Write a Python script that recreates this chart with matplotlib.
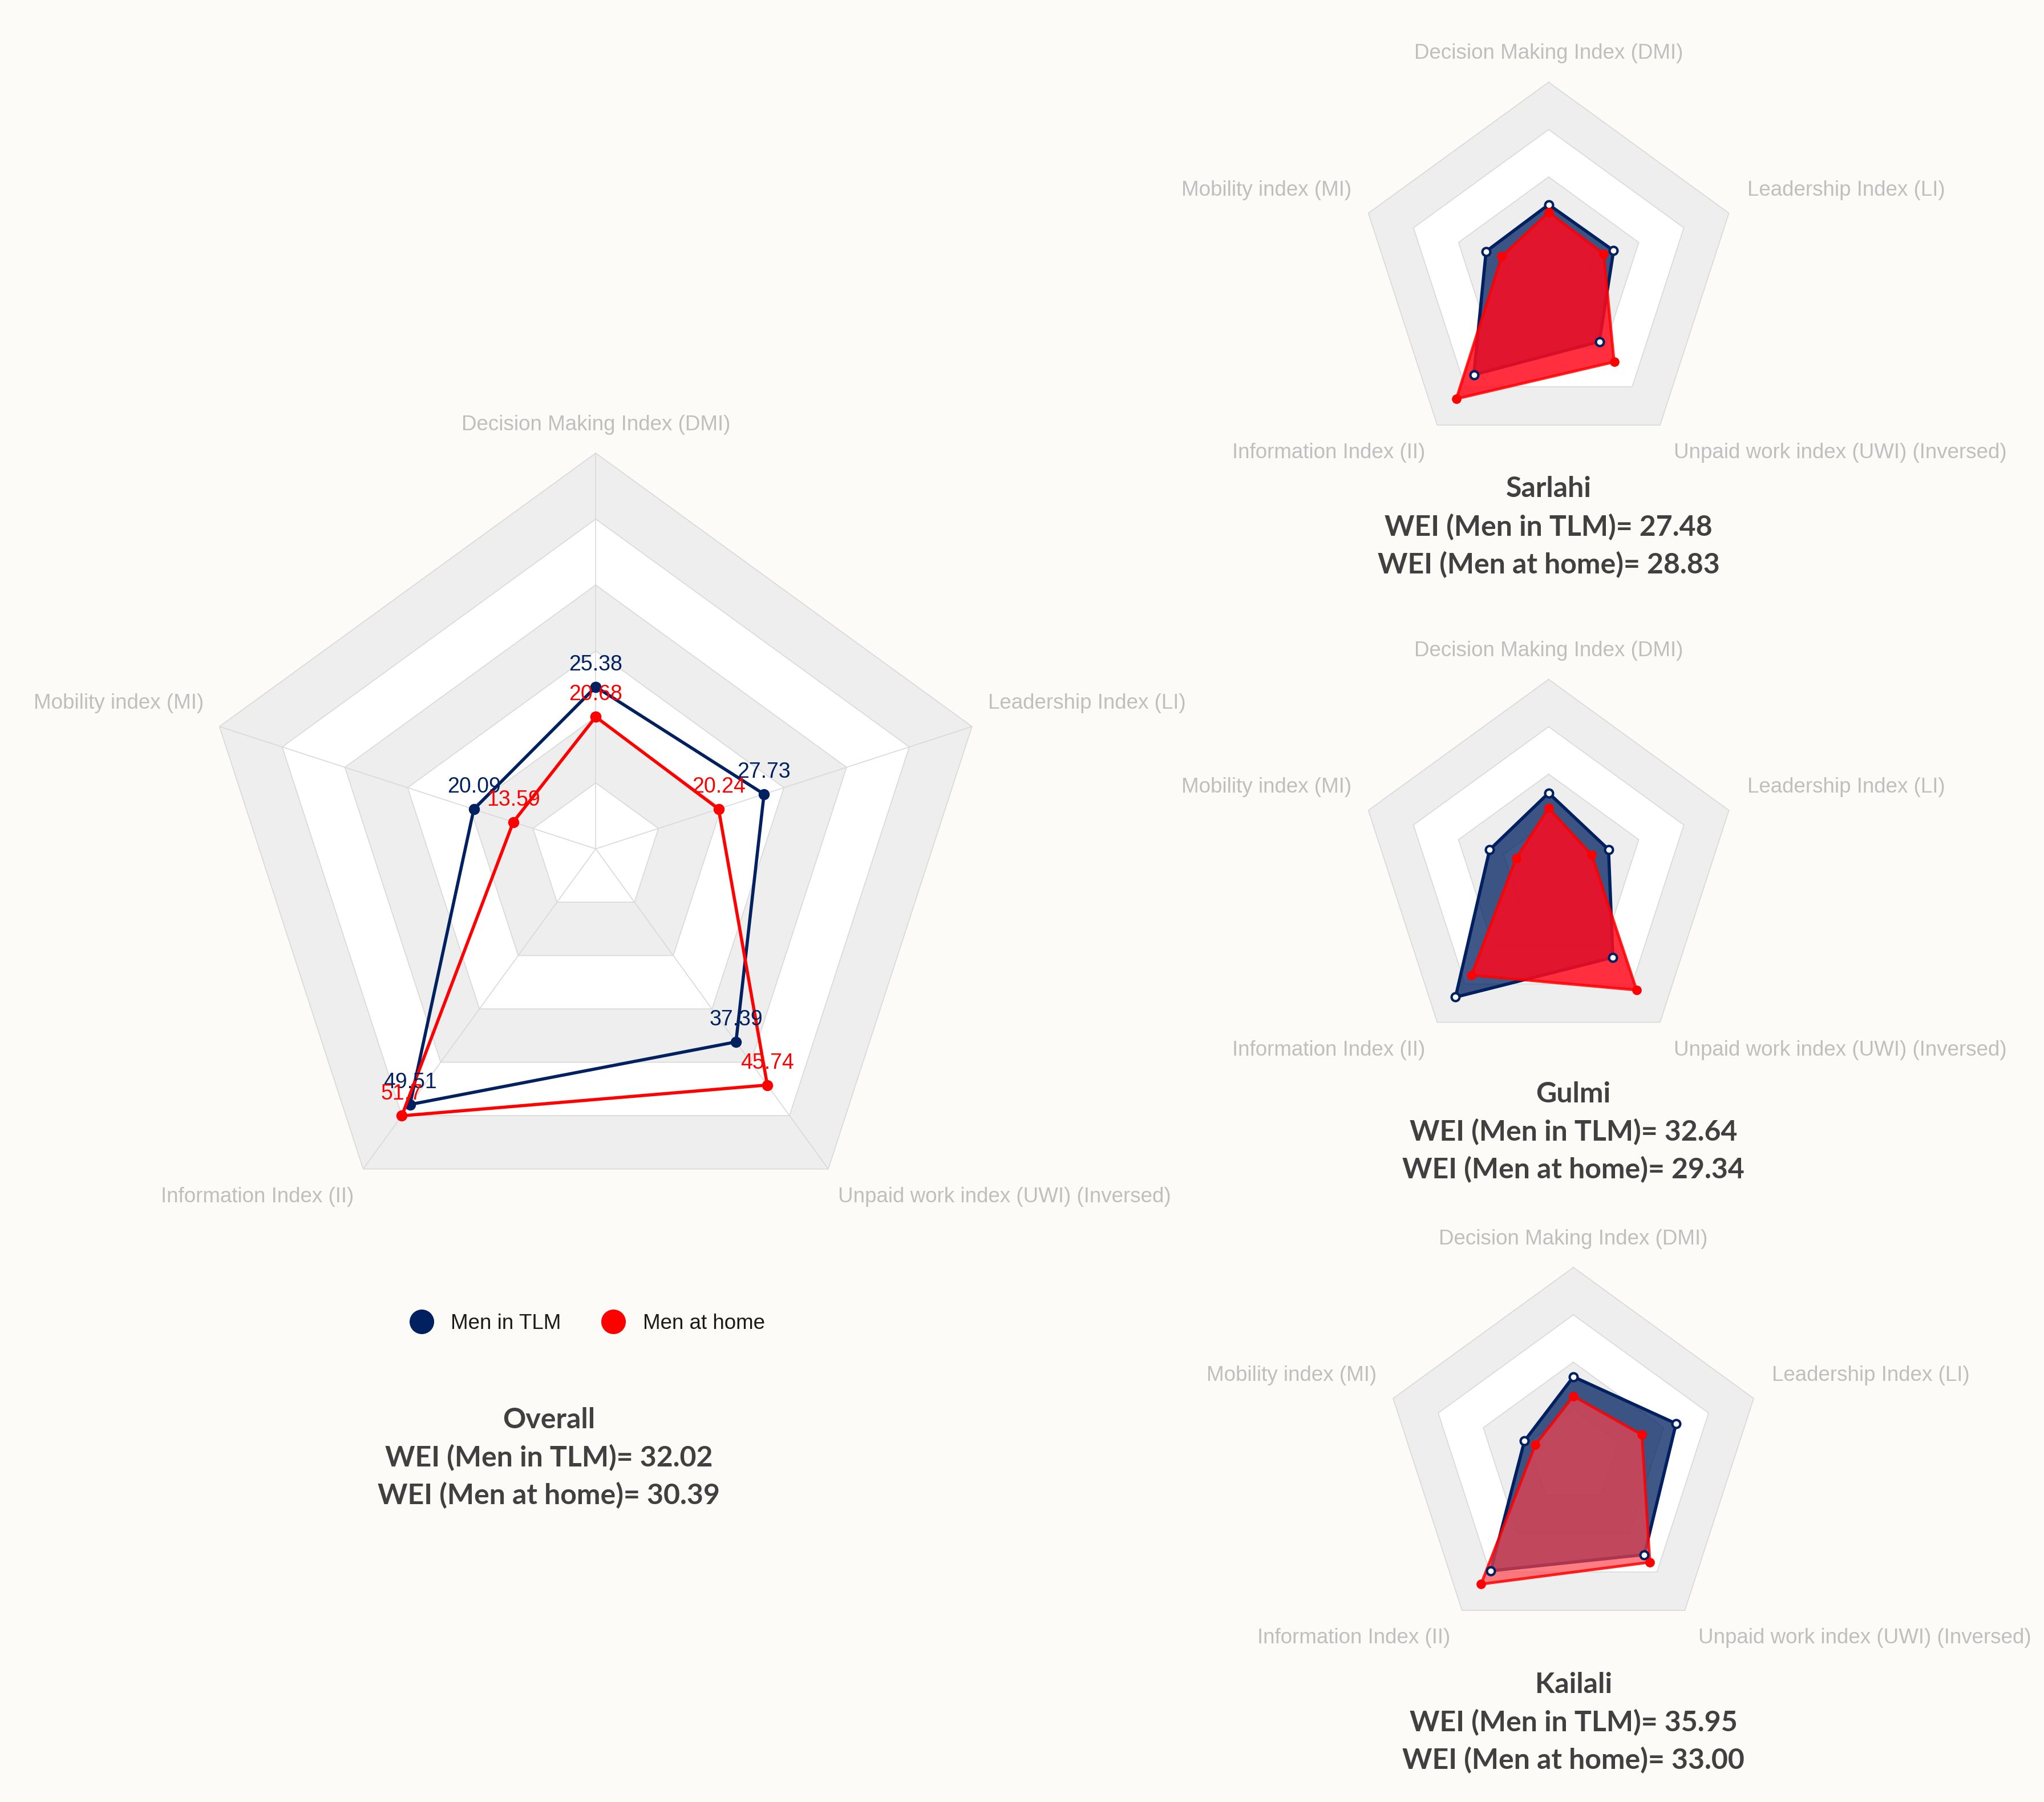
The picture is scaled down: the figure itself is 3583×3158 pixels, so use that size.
import numpy as np
import matplotlib.pyplot as plt
from matplotlib.lines import Line2D

W, H, DPI = 3583, 3158, 100
BG = "#fcfbf8"
NAVY = "#002060"
RED = "#ff0000"
BAND = "#eeeeee"
GRIDC = "#d9d9d9"
LABELC = "#bfbfbf"
TITLEC = "#404040"

# axes, clockwise from the top
axis_labels = ["Decision Making Index (DMI)", "Leadership Index (LI)",
               "Unpaid work index (UWI) (Inversed)", "Information Index (II)",
               "Mobility index (MI)"]

# Overall
overall_tlm = [25.38, 27.73, 37.39, 49.51, 20.09]
overall_home = [20.68, 20.24, 45.74, 51.70, 13.59]
overall_wei = [32.02, 30.39]

# districts
districts = ["Sarlahi", "Gulmi", "Kailali"]
sarlahi_tlm = [22.24, 22.62, 28.59, 42.16, 21.79]
sarlahi_home = [19.67, 19.16, 36.93, 52.05, 16.34]
gulmi_tlm = [26.43, 21.92, 38.08, 55.17, 21.60]
gulmi_home = [21.15, 15.75, 52.13, 45.73, 11.94]
kailali_tlm = [28.78, 38.73, 43.30, 50.46, 18.48]
kailali_home = [21.81, 25.81, 46.67, 56.38, 14.33]
wei_tlm = [27.48, 32.64, 35.95]
wei_home = [28.83, 29.34, 33.00]

theta = np.linspace(0, 2 * np.pi, 5, endpoint=False)
tclosed = np.append(theta, theta[0])


def closed(v):
    return np.append(v, v[0])


def radar_axes(cx, cy, r):
    # cx, cy, r in pixels of the full picture
    ax = fig.add_axes([(cx - r) / W, 1 - (cy + r) / H, 2 * r / W, 2 * r / H],
                      projection="polar")
    ax.set_theta_offset(np.pi / 2)
    ax.set_theta_direction(-1)
    ax.set_xticks([])
    ax.set_yticks([])
    ax.grid(False)
    ax.spines["polar"].set_visible(False)
    ax.patch.set_visible(False)
    return ax


def grid(ax, rmax, nrings, spokes, offs, lab_size=26):
    ax.set_ylim(0, rmax)
    levels = np.linspace(0, rmax, nrings + 1)[1:]
    for k in range(nrings, 0, -1):
        col = BAND if k % 2 == 0 else "white"
        ax.fill(tclosed, np.full(6, levels[k - 1]), color=col, lw=0, clip_on=False, zorder=1)
    for lv in levels:
        ax.plot(tclosed, np.full(6, lv), color=GRIDC, lw=1.2, clip_on=False, zorder=2)
    if spokes:
        for t in theta:
            ax.plot([t, t], [0, rmax], color=GRIDC, lw=1.2, zorder=2)
    for t, lab, (dx, dy, ha) in zip(theta, axis_labels, offs):
        ax.annotate(lab, (t, rmax), xytext=(dx, dy), textcoords="offset points",
                    ha=ha, va="center", color=LABELC, fontsize=lab_size,
                    family="Liberation Sans", annotation_clip=False)


fig = plt.figure(figsize=(W / DPI, H / DPI), dpi=DPI, facecolor=BG)

S = W / 1568.0  # shrunk -> full

# ---- Overall chart
ax = radar_axes(457 * S, 651 * S, 303.5 * S)
grid(ax, 62, 6, True,
     [(0, 36, "center"), (20, 29, "left"), (12, -35, "left"),
      (-12, -35, "right"), (-20, 29, "right")], lab_size=26.5)
ax.plot(tclosed, closed(overall_tlm), color=NAVY, lw=4, marker="o", ms=13, zorder=5)
ax.plot(tclosed, closed(overall_home), color=RED, lw=4, marker="o", ms=13, zorder=6)
for t, v in zip(theta, overall_tlm):
    ax.annotate("{:g}".format(v), (t, v), xytext=(0, 28), textcoords="offset points",
                ha="center", va="center", color=NAVY, fontsize=27,
                family="Liberation Sans", zorder=7)
for t, v in zip(theta, overall_home):
    ax.annotate("{:g}".format(v), (t, v), xytext=(0, 28), textcoords="offset points",
                ha="center", va="center", color=RED, fontsize=27,
                family="Liberation Sans", zorder=7)

# legend
handles = [Line2D([], [], ls="none", marker="o", ms=30, color=NAVY, label="Men in TLM"),
           Line2D([], [], ls="none", marker="o", ms=30, color=RED, label="Men at home")]
leg = fig.legend(handles=handles, loc="center", bbox_to_anchor=(451 / 1568, 1 - 1015 / 1382),
                 ncol=2, frameon=False, handlelength=1.0, handletextpad=0.9,
                 columnspacing=2.0, prop={"family": "Liberation Sans", "size": 26.5})
for txt in leg.get_texts():
    txt.set_color("#1a1a1a")


def title_block(x, y, name, a, b):
    lines = [name, "WEI (Men in TLM)= {:.2f}".format(a), "WEI (Men at home)= {:.2f}".format(b)]
    for i, s in enumerate(lines):
        fig.text(x / 1568, 1 - (y + 29 * i) / 1382, s, ha="center", va="center",
                 fontsize=36, fontweight="bold", family="Lato", color=TITLEC)


title_block(421, 1089, "Overall", overall_wei[0], overall_wei[1])

# ---- district charts
small_pos = [(1188, 208.4), (1188, 666.4), (1207, 1117.4)]
small_rmax = [62.8, 66.0, 68.0]
small_tlm = [sarlahi_tlm, gulmi_tlm, kailali_tlm]
small_home = [sarlahi_home, gulmi_home, kailali_home]
home_fill = ["#ff0a1e", "#ff0a1e", "#ff4048"]
home_alpha = [0.85, 0.85, 0.68]
text_x = [1188, 1207, 1207]
text_y = [375, 839, 1292]

for i in range(3):
    cx, cy = small_pos[i]
    ax = radar_axes(cx * S, cy * S, 145.4 * S)
    grid(ax, small_rmax[i], 4, False,
         [(0, 36, "center"), (23, 29, "left"), (17, -35, "left"),
          (-15, -35, "right"), (-21, 29, "right")], lab_size=26.5)
    ax.fill(tclosed, closed(small_tlm[i]), color=NAVY, alpha=0.75, lw=0, zorder=3)
    ax.plot(tclosed, closed(small_tlm[i]), color=NAVY, lw=4, zorder=4)
    ax.fill(tclosed, closed(small_home[i]), color=home_fill[i], alpha=home_alpha[i], lw=0, zorder=5)
    ax.plot(tclosed, closed(small_home[i]), color=RED, lw=3.5, alpha=0.85, zorder=6)
    ax.plot(theta, small_tlm[i], ls="none", marker="o", ms=10, mfc="white", mec=NAVY,
            mew=3, zorder=7)
    ax.plot(theta, small_home[i], ls="none", marker="o", ms=11, color=RED, zorder=7)
    title_block(text_x[i], text_y[i], districts[i], wei_tlm[i], wei_home[i])

fig.savefig("out.png", dpi=DPI, facecolor=BG)
